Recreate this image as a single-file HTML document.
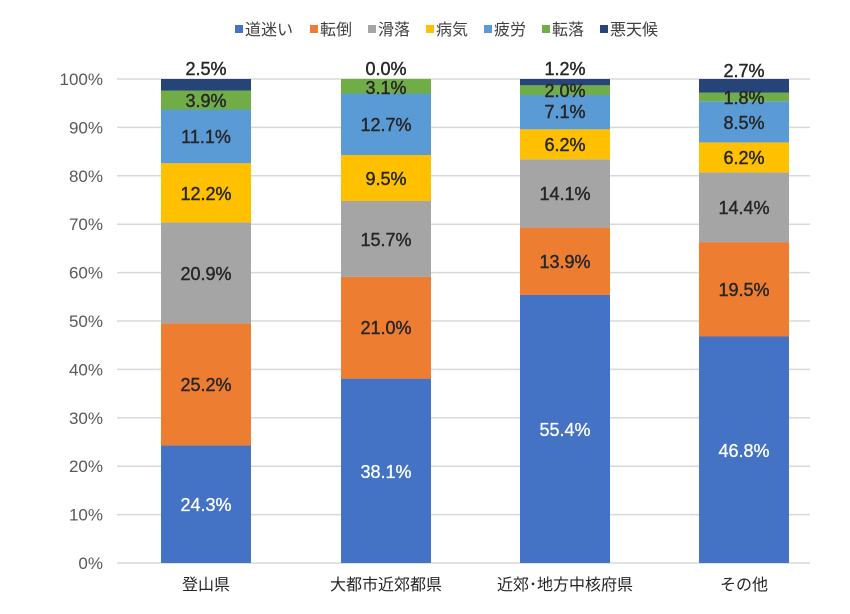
<!DOCTYPE html>
<html><head><meta charset="utf-8"><style>
html,body{margin:0;padding:0;background:#fff;}
svg{display:block;font-family:"Liberation Sans","Noto Sans CJK JP",sans-serif;}
.l{font-size:18px;fill:#262626;text-anchor:middle;stroke:#262626;stroke-width:0.4;}
.w{font-size:18px;fill:#fff;text-anchor:middle;stroke:#fff;stroke-width:0.3;}
.ax{font-size:17px;fill:#595959;text-anchor:end;}
.cat{font-size:16px;fill:#262626;text-anchor:middle;}
.lg{font-size:16px;fill:#404040;}
</style></head><body>
<svg width="850" height="614" viewBox="0 0 850 614">
<g stroke="#d9d9d9" stroke-width="1.5">
<line x1="117" x2="810" y1="563" y2="563"/><line x1="117" x2="810" y1="514.6" y2="514.6"/>
<line x1="117" x2="810" y1="466.2" y2="466.2"/><line x1="117" x2="810" y1="417.8" y2="417.8"/>
<line x1="117" x2="810" y1="369.4" y2="369.4"/><line x1="117" x2="810" y1="321" y2="321"/>
<line x1="117" x2="810" y1="272.6" y2="272.6"/><line x1="117" x2="810" y1="224.2" y2="224.2"/>
<line x1="117" x2="810" y1="175.8" y2="175.8"/><line x1="117" x2="810" y1="127.4" y2="127.4"/>
<line x1="117" x2="810" y1="79" y2="79"/>
</g>
<g class="ax">
<text x="103" y="569">0%</text><text x="103" y="520.6">10%</text><text x="103" y="472.2">20%</text>
<text x="103" y="423.8">30%</text><text x="103" y="375.4">40%</text><text x="103" y="327">50%</text>
<text x="103" y="278.6">60%</text><text x="103" y="230.2">70%</text><text x="103" y="181.8">80%</text>
<text x="103" y="133.4">90%</text><text x="103" y="85">100%</text>
</g>
<rect x="161" y="445.4" width="90" height="117.6" fill="#4472C4"/>
<rect x="161" y="323.4" width="90" height="122" fill="#ED7D31"/>
<rect x="161" y="222.3" width="90" height="101.1" fill="#A5A5A5"/>
<rect x="161" y="163.2" width="90" height="59.1" fill="#FFC000"/>
<rect x="161" y="109.5" width="90" height="53.7" fill="#5B9BD5"/>
<rect x="161" y="90.6" width="90" height="18.9" fill="#70AD47"/>
<rect x="161" y="79" width="90" height="11.6" fill="#264478"/>
<rect x="341" y="378.6" width="90" height="184.4" fill="#4472C4"/>
<rect x="341" y="276.9" width="90" height="101.7" fill="#ED7D31"/>
<rect x="341" y="201" width="90" height="75.9" fill="#A5A5A5"/>
<rect x="341" y="155" width="90" height="46" fill="#FFC000"/>
<rect x="341" y="93.5" width="90" height="61.5" fill="#5B9BD5"/>
<rect x="341" y="79" width="90" height="14.5" fill="#70AD47"/>
<rect x="520" y="294.9" width="90" height="268.1" fill="#4472C4"/>
<rect x="520" y="227.6" width="90" height="67.3" fill="#ED7D31"/>
<rect x="520" y="159.3" width="90" height="68.3" fill="#A5A5A5"/>
<rect x="520" y="129.3" width="90" height="30" fill="#FFC000"/>
<rect x="520" y="95" width="90" height="34.3" fill="#5B9BD5"/>
<rect x="520" y="85.3" width="90" height="9.7" fill="#70AD47"/>
<rect x="520" y="79" width="90" height="6.3" fill="#264478"/>
<rect x="699" y="336.5" width="90" height="226.5" fill="#4472C4"/>
<rect x="699" y="242.1" width="90" height="94.4" fill="#ED7D31"/>
<rect x="699" y="172.4" width="90" height="69.7" fill="#A5A5A5"/>
<rect x="699" y="142.4" width="90" height="30" fill="#FFC000"/>
<rect x="699" y="101.3" width="90" height="41.1" fill="#5B9BD5"/>
<rect x="699" y="92.6" width="90" height="8.7" fill="#70AD47"/>
<rect x="699" y="79" width="90" height="13.6" fill="#264478"/>
<text class="w" x="206" y="511">24.3%</text>
<text class="l" x="206" y="391">25.2%</text>
<text class="l" x="206" y="280">20.9%</text>
<text class="l" x="206" y="200">12.2%</text>
<text class="l" x="206" y="143">11.1%</text>
<text class="l" x="206" y="107">3.9%</text>
<text class="l" x="206" y="75">2.5%</text>
<text class="w" x="386" y="478">38.1%</text>
<text class="l" x="386" y="334">21.0%</text>
<text class="l" x="386" y="246">15.7%</text>
<text class="l" x="386" y="185">9.5%</text>
<text class="l" x="386" y="131">12.7%</text>
<text class="l" x="386" y="94">3.1%</text>
<text class="l" x="386" y="75">0.0%</text>
<text class="w" x="565" y="436">55.4%</text>
<text class="l" x="565" y="268">13.9%</text>
<text class="l" x="565" y="200">14.1%</text>
<text class="l" x="565" y="151">6.2%</text>
<text class="l" x="565" y="118">7.1%</text>
<text class="l" x="565" y="97">2.0%</text>
<text class="l" x="565" y="75">1.2%</text>
<text class="w" x="744" y="457">46.8%</text>
<text class="l" x="744" y="296">19.5%</text>
<text class="l" x="744" y="214">14.4%</text>
<text class="l" x="744" y="164">6.2%</text>
<text class="l" x="744" y="129">8.5%</text>
<text class="l" x="744" y="104">1.8%</text>
<text class="l" x="744" y="77">2.7%</text>
<g class="cat">
<text x="206" y="590">登山県</text><text x="386" y="590">大都市近郊都県</text>
<text x="565" y="590">近郊･地方中核府県</text><text x="744" y="590">その他</text>
</g>
<g class="lg">
<rect x="235" y="25" width="8" height="8" fill="#4472C4"/><text x="245" y="35">道迷い</text>
<rect x="310" y="25" width="8" height="8" fill="#ED7D31"/><text x="320" y="35">転倒</text>
<rect x="368" y="25" width="8" height="8" fill="#A5A5A5"/><text x="378" y="35">滑落</text>
<rect x="426" y="25" width="8" height="8" fill="#FFC000"/><text x="436" y="35">病気</text>
<rect x="484" y="25" width="8" height="8" fill="#5B9BD5"/><text x="494" y="35">疲労</text>
<rect x="542" y="25" width="8" height="8" fill="#70AD47"/><text x="552" y="35">転落</text>
<rect x="600" y="25" width="8" height="8" fill="#264478"/><text x="610" y="35">悪天候</text>
</g>
</svg>
</body></html>
